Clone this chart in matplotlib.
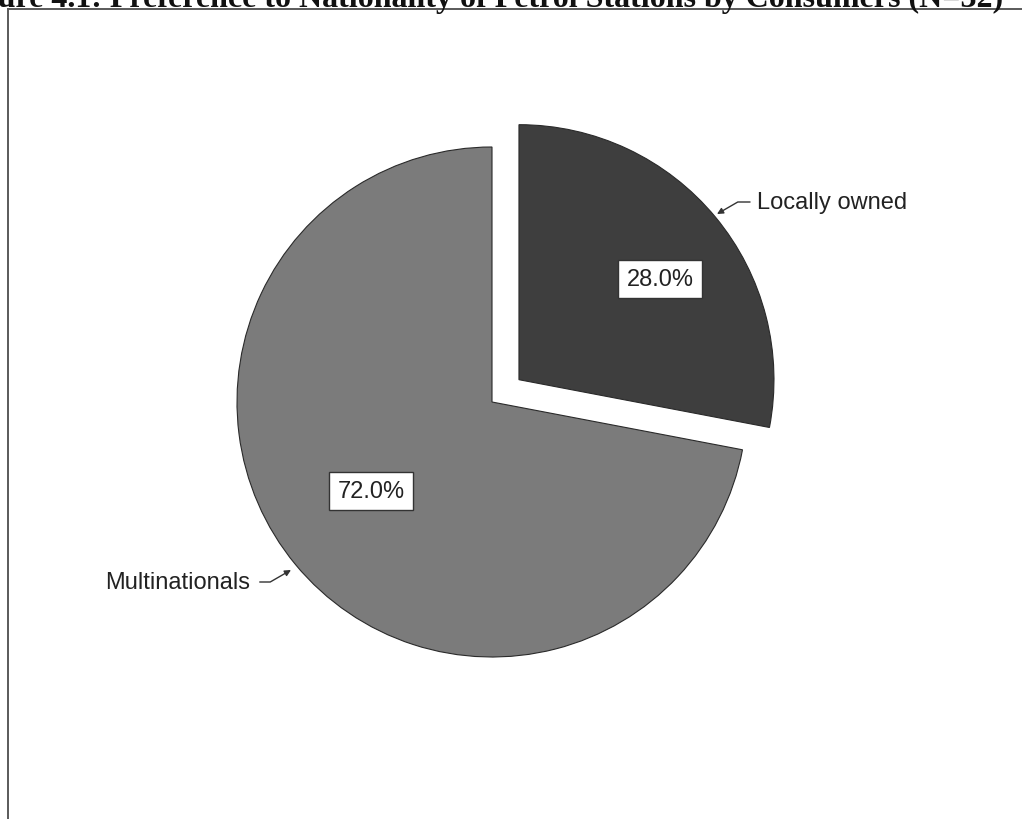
import matplotlib
matplotlib.use("Agg")
import matplotlib.pyplot as plt

# data
labels  = ["Locally owned", "Multinationals"]
shares  = [28.0, 72.0]
colors  = ["#3e3e3e", "#7b7b7b"]
title   = "Figure 4.1: Preference to Nationality of Petrol Stations by Consumers (N=32)"

W, H = 1022, 820
fig = plt.figure(figsize=(W / 100, H / 100), dpi=100)
ax = fig.add_axes([0, 0, 1, 1])

# pixel coords, y measured from the bottom
R      = 255
CENTER = (492, H - 403)
EXPL   = 35

wedges, _ = ax.pie(shares, colors=colors, startangle=90, counterclock=False,
                   explode=[EXPL, 0], radius=R, center=CENTER, frame=True,
                   wedgeprops=dict(edgecolor="#2a2a2a", linewidth=0.8))

ax.set_xlim(0, W); ax.set_ylim(0, H)
ax.set_aspect("equal")
ax.axis("off")

# percent boxes
box = dict(boxstyle="square,pad=0.35", fc="white", ec="#333333", lw=1.0)
ax.text(660, H - 280, f"{shares[0]:.1f}%", ha="center", va="center", fontsize=17,
        family="Liberation Sans", color="#222222", bbox=box)
ax.text(371, H - 492, f"{shares[1]:.1f}%", ha="center", va="center", fontsize=17,
        family="Liberation Sans", color="#222222", bbox=box)

# category labels with leader lines
ax.annotate(labels[0], xy=(717, H - 215), xytext=(757, H - 203), ha="left", va="center",
            fontsize=17, family="Liberation Sans", color="#222222",
            arrowprops=dict(arrowstyle="-|>", color="#333333", lw=1.0, mutation_scale=9,
                            shrinkA=3, shrinkB=0,
                            connectionstyle="angle,angleA=180,angleB=30,rad=0"))
ax.annotate(labels[1], xy=(291, H - 571), xytext=(250, H - 583), ha="right", va="center",
            fontsize=17, family="Liberation Sans", color="#222222",
            arrowprops=dict(arrowstyle="-|>", color="#333333", lw=1.0, mutation_scale=9,
                            shrinkA=5, shrinkB=0,
                            connectionstyle="angle,angleA=0,angleB=210,rad=0"))

# frame of the scanned figure
ax.plot([8, 8], [0, H - 10], color="#5a5a5a", lw=1.4, clip_on=False)
ax.plot([8, W], [H - 10, H - 10], color="#5a5a5a", lw=1.4, clip_on=False)

# caption, cut off at the top edge of the scan (as in the reference)
ax.text(1003, H - 7, title, ha="right", va="baseline", fontsize=23, fontweight="bold",
        family="Liberation Serif", color="#111111", clip_on=False)

fig.savefig("out.png", dpi=100)
